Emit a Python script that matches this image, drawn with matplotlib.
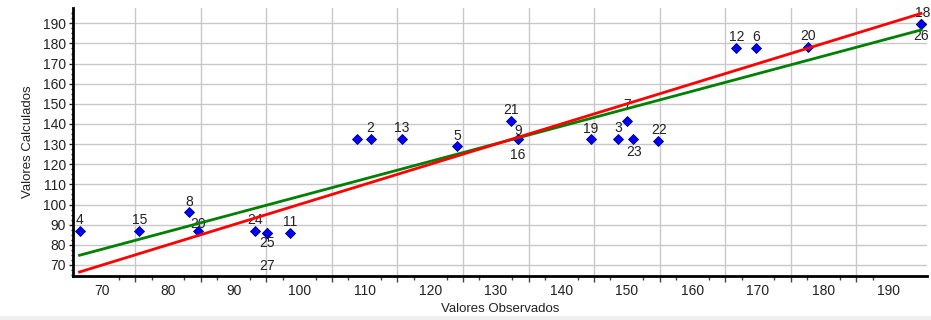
import numpy as np
import matplotlib.pyplot as plt
from matplotlib.patches import Rectangle

# observed vs calculated values, one entry per labelled point
obs = [66.5, 75.6, 83.2, 84.5, 93.3, 95.1, 95.1, 98.6, 108.9, 110.9, 115.7,
       124.1, 132.3, 133.4, 133.4, 144.5, 148.7, 150.0, 151.0, 154.7,
       166.6, 169.7, 177.7, 194.9, 194.9]
calc = [87.0, 87.0, 96.3, 87.0, 87.0, 85.7, 85.7, 85.7, 132.5, 132.5, 132.5,
        129.1, 141.6, 132.4, 132.4, 132.5, 132.5, 141.6, 132.5, 131.7,
        177.7, 177.7, 178.4, 189.6, 189.6]
ids = ['4', '15', '8', '20', '24', '25', '27', '11', '', '2', '13',
       '5', '21', '9', '16', '19', '3', '7', '23', '22',
       '12', '6', '20', '18', '26']

# ideal line (y = x) and fitted line, end points
ideal_x = [66.5, 194.9]
ideal_y = [66.5, 194.9]
fit_x = [66.5, 194.9]
fit_y = [74.8, 186.7]

xlabels = list(range(70, 200, 10))
ylabels = list(range(70, 200, 10))

# label offsets in pixels (layout only)
offs = [(0, 11), (0, 11), (0, 10), (1, 7), (0, 11), (0, -10), (0, -33), (0, 11),
        (0, 0), (0, 11), (0, 11), (0, 10), (0, 11), (0, 8), (0, -16), (0, 10),
        (0, 11), (0, 16), (1, -13), (1, 11), (1, 11), (0, 11), (0, 11),
        (2, 11), (0, -12)]

plt.rcParams['font.family'] = ['Liberation Sans', 'DejaVu Sans']
plt.rcParams['font.size'] = 10

fig = plt.figure(figsize=(9.31, 3.2), dpi=100)
ax = fig.add_axes([73/931, 44/320, 854/931, 268/320])

ax.set_xlim(65.5, 195.8)
ax.set_ylim(64.5, 197.6)

# x: labels at the values, grid lines centred between labels
ax.set_xticks(xlabels)
ax.set_xticklabels([str(v) for v in xlabels])
ax.tick_params(axis='x', which='major', length=0, pad=6, colors='#222222',
               labelsize=10)
grid_x = np.arange(75, 190, 10)
ax.set_xticks(grid_x, minor=True)
ax.tick_params(axis='x', which='minor', length=4, width=1, color='#444444')
for g in grid_x:
    ax.axvline(g, color='#c8c8c8', lw=1, zorder=0)
sec = ax.secondary_xaxis('bottom')
sec.set_xticks(np.concatenate([grid_x - 2.5, grid_x + 2.5]))
sec.tick_params(length=3, width=1, color='#444444', labelbottom=False)
sec.spines['bottom'].set_visible(False)

ax.set_yticks(ylabels)
ax.set_yticklabels([str(v) for v in ylabels])
ax.tick_params(axis='y', which='major', length=3, width=1, pad=2, colors='#222222',
               labelsize=10)
ax.set_yticks(np.arange(65, 197, 2.5), minor=True)
ax.tick_params(axis='y', which='minor', length=1.5, width=1, color='#222222')
for g in ylabels:
    ax.axhline(g, color='#c8c8c8', lw=1, zorder=0)

for s in ['top', 'right']:
    ax.spines[s].set_visible(False)
for s in ['left', 'bottom']:
    ax.spines[s].set_linewidth(2)
    ax.spines[s].set_color('black')

ax.plot(obs, calc, linestyle='none', marker='D', markersize=5,
        markerfacecolor='#0000ff', markeredgecolor='#000080',
        markeredgewidth=0.6, zorder=3)
for x, y, t, (dx, dy) in zip(obs, calc, ids, offs):
    if t:
        ax.annotate(t, (x, y), xytext=(dx, dy), textcoords='offset pixels',
                    ha='center', va='center', fontsize=10, color='#222222',
                    zorder=4)

ax.plot(fit_x, fit_y, color='#008000', lw=2, zorder=5)
ax.plot(ideal_x, ideal_y, color='#ff0000', lw=2, zorder=6)

ax.set_xlabel('Valores Observados', fontsize=9.5, color='#222222', labelpad=3)
ax.set_ylabel('Valores Calculados', fontsize=9.5, color='#222222', labelpad=6)

fig.add_artist(Rectangle((0, 0), 1, 4/320, transform=fig.transFigure,
                         color='#f0f0f0', lw=0))

fig.savefig('out.png', dpi=100)
